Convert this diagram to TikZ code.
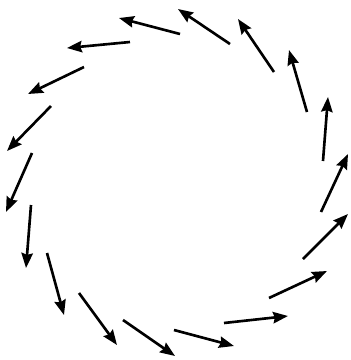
\documentclass[tikz,border=0pt]{standalone}
\usetikzlibrary{arrows.meta}
\begin{document}
\begin{tikzpicture}[
  x=0.02cm,
  y=-0.02cm,
  vec/.style={draw=black,line width=1.5pt,-{Stealth[length=8.5pt,width=6.5pt,inset=1pt]}}
]
  \useasboundingbox (0,0) rectangle (351,360);

  % ring of arrows, tail/tip
  \foreach \xa/\ya/\xb/\yb in {
    180/34/119/18, 130/42/67/48, 84/67/28/94, 51/106/7/151,
    32/153/6/212, 31/205/26/268, 47/253/64/315, 79/293/117/345,
    123/320/175/356, 174/330/234/346, 224/323/288/316, 269/298/327/271,
    303/259/348/214, 321/212/348/154, 323/161/328/97, 307/112/289/50,
    274/72/238/19, 230/44/178/9} {
    \draw[vec] (\xa,\ya)--(\xb,\yb);
  }
\end{tikzpicture}
\end{document}
